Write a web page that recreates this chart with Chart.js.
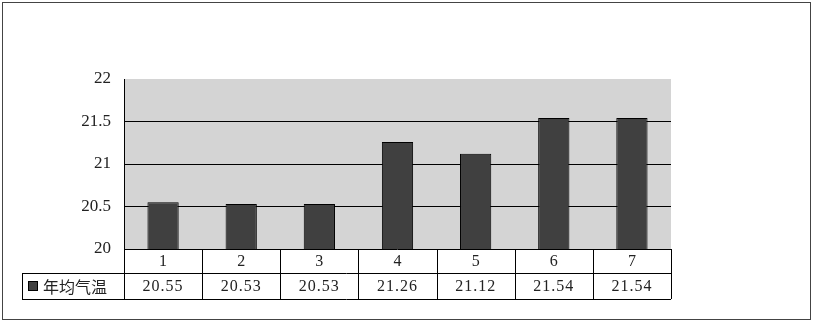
<!DOCTYPE html>
<html>
<head>
<meta charset="utf-8">
<script src="https://cdn.jsdelivr.net/npm/chart.js@4"></script>
<style>
  html, body { margin: 0; padding: 0; background: #fff; }
  #wrap { width: 814px; height: 323px; }
</style>
</head>
<body>
<div id="wrap"><canvas id="grafTemp" width="814" height="323"></canvas></div>
<script>
// ===== DATOS =====
const categorias = ["1", "2", "3", "4", "5", "6", "7"]
const temperaturas = [20.55, 20.53, 20.53, 21.26, 21.12, 21.54, 21.54]
const etiquetasValor = ["20.55", "20.53", "20.53", "21.26", "21.12", "21.54", "21.54"]
const serieNombre = "年均气温"

const fuenteNum = "16px 'Liberation Serif', 'DejaVu Serif', serif"
const fuenteCJK = "16px 'Noto Sans CJK SC', sans-serif"
const colorTexto = "#222"

// fondo gris del área de trazado
const fondoArea = {
    id: "fondoArea",
    beforeDraw(chart) {
        const { ctx, chartArea: a } = chart
        ctx.save()
        ctx.fillStyle = "#d4d4d4"
        ctx.fillRect(a.left, a.top, a.right - a.left, a.bottom - a.top)
        ctx.restore()
    }
}

// tabla de datos bajo el gráfico + marco exterior
const tablaDatos = {
    id: "tablaDatos",
    afterDraw(chart) {
        const { ctx, chartArea: a } = chart
        const x = chart.scales.x
        const fila1 = a.bottom
        const fila2 = fila1 + 24
        const fila3 = fila2 + 26
        const leyIzq = 22
        const n = categorias.length
        const ancho = (a.right - a.left) / n

        ctx.save()
        ctx.strokeStyle = "#000"
        ctx.lineWidth = 1
        ctx.beginPath()
        // horizontales
        ctx.moveTo(a.left, fila1 + 0.5); ctx.lineTo(a.right, fila1 + 0.5)
        ctx.moveTo(leyIzq, fila2 + 0.5); ctx.lineTo(a.right, fila2 + 0.5)
        ctx.moveTo(leyIzq, fila3 + 0.5); ctx.lineTo(a.right, fila3 + 0.5)
        // verticales
        for (let i = 0; i <= n; i++) {
            const vx = Math.round(a.left + i * ancho) + 0.5
            ctx.moveTo(vx, fila1); ctx.lineTo(vx, fila3)
        }
        ctx.moveTo(leyIzq + 0.5, fila2); ctx.lineTo(leyIzq + 0.5, fila3)
        ctx.stroke()

        ctx.fillStyle = colorTexto
        ctx.textAlign = "center"
        ctx.textBaseline = "middle"
        ctx.font = fuenteNum
        categorias.forEach((c, i) => {
            const cx = x.getPixelForValue(i)
            ctx.letterSpacing = "0px"
            ctx.fillText(c, cx, (fila1 + fila2) / 2 + 1)
            ctx.letterSpacing = "1px"
            ctx.fillText(etiquetasValor[i], cx, (fila2 + fila3) / 2 + 1)
        })
        ctx.letterSpacing = "0px"

        // clave de leyenda
        ctx.fillStyle = "#404040"
        ctx.fillRect(28, fila2 + 8, 10, 10)
        ctx.strokeRect(28.5, fila2 + 8.5, 9, 9)
        ctx.fillStyle = colorTexto
        ctx.textAlign = "left"
        ctx.font = fuenteCJK
        ctx.fillText(serieNombre, 43, (fila2 + fila3) / 2 + 1)

        // marco exterior
        ctx.strokeStyle = "#444"
        ctx.strokeRect(2.5, 2.5, 808, 317)
        ctx.restore()
    }
}

const ctxT = document.getElementById("grafTemp").getContext("2d")
new Chart(ctxT, {
    type: "bar",
    data: {
        labels: categorias,
        datasets: [{
            label: serieNombre,
            data: temperaturas,
            backgroundColor: "#404040",
            borderColor: "#000",
            borderWidth: 1,
            categoryPercentage: 1,
            barPercentage: 0.4
        }]
    },
    options: {
        responsive: false,
        animation: false,
        layout: { padding: { top: 79, right: 143, bottom: 74, left: 0 } },
        plugins: { legend: { display: false }, tooltip: { enabled: false } },
        scales: {
            x: { display: false },
            y: {
                min: 20,
                max: 22,
                afterFit(scale) { scale.width = 124 },
                ticks: {
                    stepSize: 0.5,
                    padding: 13,
                    color: colorTexto,
                    font: { family: "'Liberation Serif', 'DejaVu Serif', serif", size: 17 },
                    callback: v => String(v)
                },
                grid: {
                    drawTicks: false,
                    color: ctx => (ctx.tick && (ctx.tick.value === 22 || ctx.tick.value === 20)) ? "rgba(0,0,0,0)" : "#000",
                    lineWidth: 1
                },
                border: { display: true, color: "#000", width: 1 }
            }
        }
    },
    plugins: [fondoArea, tablaDatos]
})
</script>
</body>
</html>
